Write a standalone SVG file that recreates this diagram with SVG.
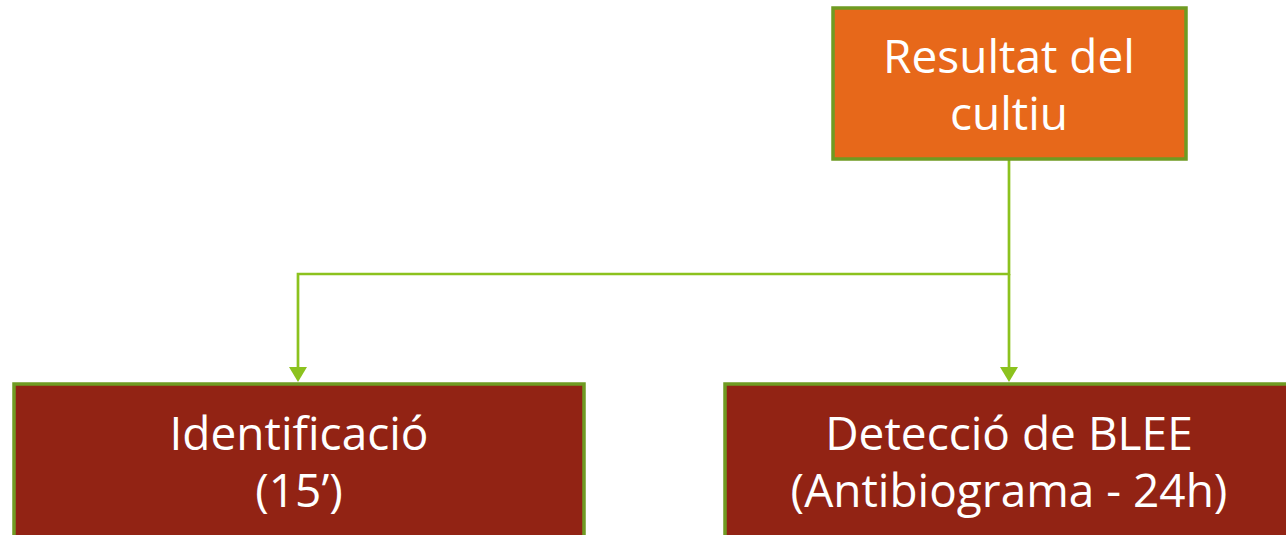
<svg xmlns="http://www.w3.org/2000/svg" width="1286" height="535" viewBox="0 0 1286 535">
<defs>
<style>
.box{stroke:#6F9B22;stroke-width:3.5}
.top{fill:#E7681A}
.bot{fill:#922314}
.t{font-family:"Open Sans","DejaVu Sans",sans-serif;font-size:46px;fill:#FFFFFF;text-anchor:middle}
.c{fill:none;stroke:#8CC21E;stroke-width:2.7}
.ah{fill:#8CC21E}
</style>
</defs>
<rect width="1286" height="535" fill="#FFFFFF"/>
<g id="connectors">
<path class="c" d="M1009,160 V274 H298 V370"/>
<path class="ah" d="M289,367 L307,367 L298,382 Z"/>
<path class="c" d="M1009,274 V370"/>
<path class="ah" d="M1000,367 L1018,367 L1009,382 Z"/>
</g>
<g id="node-resultat">
<rect class="box top" x="833" y="8" width="353" height="151"/>
<text class="t" x="1009" y="73">Resultat del</text>
<text class="t" x="1009" y="130">cultiu</text>
</g>
<g id="node-identificacio">
<rect class="box bot" x="14" y="384" width="570" height="160"/>
<text class="t" x="299" y="450">Identificació</text>
<text class="t" x="299" y="507">(15’)</text>
</g>
<g id="node-deteccio">
<rect class="box bot" x="725" y="384" width="570" height="160"/>
<text class="t" x="1009" y="450">Detecció de BLEE</text>
<text class="t" x="1009" y="507">(Antibiograma - 24h)</text>
</g>
</svg>
